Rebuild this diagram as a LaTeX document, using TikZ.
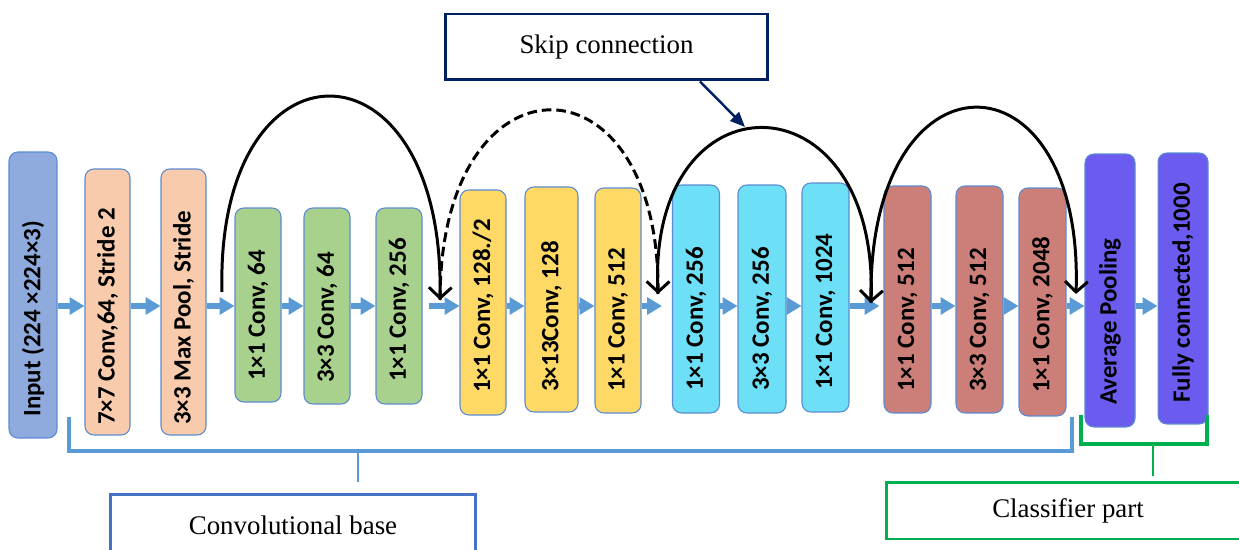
\documentclass[tikz,border=0pt]{standalone}
\usepackage{fontspec}
\setmainfont{Liberation Serif}
\newfontfamily\blockfont{Carlito}
\usetikzlibrary{arrows.meta, positioning}

\definecolor{edgeblue}{HTML}{5B8BD0}
\definecolor{flowblue}{HTML}{5B9BD5}
\definecolor{inblue}{HTML}{8FAADC}
\definecolor{peach}{HTML}{F8CBAD}
\definecolor{leaf}{HTML}{A9D18E}
\definecolor{gold}{HTML}{FFD966}
\definecolor{sky}{HTML}{6DDFF6}
\definecolor{rose}{HTML}{CC7F79}
\definecolor{violet}{HTML}{6B5BEF}
\definecolor{navy}{HTML}{002060}
\definecolor{baseblue}{HTML}{4472C4}
\definecolor{clsgreen}{HTML}{00B050}

\tikzset{%
>={Straight Barb[length=6pt,width=13pt]},
  % boxes of the network and their rotated titles
            layer/.style = {draw=edgeblue, line width=0.6pt, rounded corners=5pt,
                            inner sep=0pt, minimum width=0.92cm},
            lbl/.style = {rotate=90, anchor=west, inner sep=0pt,
                            font=\blockfont\bfseries\fontsize{14.2}{16}\selectfont},
            flow/.style = {draw=flowblue, line width=3.1pt,
                            -{Triangle[length=8.5pt,width=9.6pt]}},
            skiparc/.style = {draw=black, line width=1.7pt, ->},
            caption/.style = {draw, line width=1.7pt, inner sep=0pt,
                            font=\fontsize{15.3}{17}\selectfont}
}

\begin{document}
\begin{tikzpicture}[x=0.02cm, y=-0.02cm]
                \useasboundingbox (0,0) rectangle (1239,550);

                % stem
                \node[layer, fill=inblue, minimum width=0.96cm, minimum height=5.72cm] (inp) at (33,295) {};
                \node[lbl] (inp-t) at (inp |- 0,417) {Input (224 ×224×3)};
                \node[layer, fill=peach, minimum width=0.9cm, minimum height=5.32cm] (c7) at (107.5,302) {};
                \node[lbl] (c7-t) at (c7 |- 0,425) {7×7 Conv,64, Stride 2};
                \node[layer, fill=peach, minimum width=0.9cm, minimum height=5.32cm] (mp) at (183.5,302) {};
                \node[lbl] (mp-t) at (mp |- 0,425) {3×3 Max Pool, Stride};

                % first bottleneck
                \node[layer, fill=leaf, minimum height=3.88cm] (g1) at (258,305) {};
                \node[lbl] (g1-t) at (g1 |- 0,381) {1×1 Conv, 64};
                \node[layer, fill=leaf, minimum height=3.92cm] (g2) at (327,306) {};
                \node[lbl] (g2-t) at (g2 |- 0,383) {3×3 Conv, 64};
                \node[layer, fill=leaf, minimum height=3.92cm] (g3) at (399,306) {};
                \node[lbl] (g3-t) at (g3 |- 0,382) {1×1 Conv, 256};

                % second bottleneck
                \node[layer, fill=gold, minimum height=4.5cm] (y1) at (483,302.5) {};
                \node[lbl] (y1-t) at (y1 |- 0,393) {1×1 Conv, 128./2};
                \node[layer, fill=gold, minimum width=1.06cm, minimum height=4.5cm] (y2) at (551.5,299.5) {};
                \node[lbl] (y2-t) at (y2 |- 0,392) {3×13Conv, 128};
                \node[layer, fill=gold, minimum height=4.5cm] (y3) at (618,300.5) {};
                \node[lbl] (y3-t) at (y3 |- 0,392) {1×1 Conv, 512};

                % third bottleneck
                \node[layer, fill=sky, minimum width=0.94cm, minimum height=4.56cm] (s1) at (696,299) {};
                \node[lbl] (s1-t) at (s1 |- 0,391) {1×1 Conv, 256};
                \node[layer, fill=sky, minimum width=0.96cm, minimum height=4.56cm] (s2) at (762,299) {};
                \node[lbl] (s2-t) at (s2 |- 0,391) {3×3 Conv, 256};
                \node[layer, fill=sky, minimum width=0.94cm, minimum height=4.58cm] (s3) at (825.5,297.5) {};
                \node[lbl] (s3-t) at (s3 |- 0,390) {1×1 Conv, 1024};

                % fourth bottleneck
                \node[layer, fill=rose, minimum width=0.94cm, minimum height=4.54cm] (r1) at (907.5,299.5) {};
                \node[lbl] (r1-t) at (r1 |- 0,392) {1×1 Conv, 512};
                \node[layer, fill=rose, minimum width=0.94cm, minimum height=4.54cm] (r2) at (979.5,299.5) {};
                \node[lbl] (r2-t) at (r2 |- 0,392) {3×3 Conv, 512};
                \node[layer, fill=rose, minimum width=0.94cm, minimum height=4.56cm] (r3) at (1042.5,302) {};
                \node[lbl] (r3-t) at (r3 |- 0,393) {1×1 Conv, 2048};

                % head
                \node[layer, fill=violet, minimum width=1cm, minimum height=5.46cm] (avg) at (1110,290.5) {};
                \node[lbl] (avg-t) at (avg |- 0,405) {Average Pooling};
                \node[layer, fill=violet, minimum width=1cm, minimum height=5.42cm] (fc) at (1183,288.5) {};
                \node[lbl] (fc-t) at (fc |- 0,403) {Fully connected,1000};

                % forward flow
                \coordinate (row) at (0,306);
                \draw[flow] (inp.east |- row) -- (c7.west |- row);
                \draw[flow] (c7.east |- row) -- (mp.west |- row);
                \draw[flow] (mp.east |- row) -- (g1.west |- row);
                \draw[flow] (g1.east |- row) -- (g2.west |- row);
                \draw[flow] (g2.east |- row) -- (g3.west |- row);
                \draw[flow, shorten <=0.12cm] (g3.east |- row) -- (y1.west |- row);
                \draw[flow] (y1.east |- row) -- (y2.west |- row);
                \draw[flow] (y2.east |- row) -- (y3.west |- row);
                \draw[flow, shorten >=0.2cm] (y3.east |- row) -- (s1.west |- row);
                \draw[flow] (s1.east |- row) -- (s2.west |- row);
                \draw[flow] (s2.east |- row) -- (s3.west |- row);
                \draw[flow, shorten >=0.08cm] (s3.east |- row) -- (r1.west |- row);
                \draw[flow] (r1.east |- row) -- (r2.west |- row);
                \draw[flow] (r2.east |- row) -- (r3.west |- row);
                \draw[flow] (r3.east |- row) -- (avg.west |- row);
                \draw[flow] (avg.east |- row) -- (fc.west |- row);

                % shortcuts
                \coordinate (k1) at (222,292);
                \coordinate (k2) at (440,300);
                \coordinate (k3) at (658,294);
                \coordinate (k4) at (871,303);
                \coordinate (k5) at (1076,294);
                \draw[skiparc] (k1) .. controls (215,30) and (445,30) .. (k2);
                \draw[skiparc, dash pattern=on 5.5pt off 2.8pt] (k2) .. controls (440,48) and (659,48) .. (k3);
                \draw[skiparc] (k3) .. controls (645,71) and (879,71) .. (k4);
                \draw[skiparc] (k4) .. controls (866,44) and (1084,44) .. (k5);

                \node[caption, draw=navy, minimum width=6.46cm, minimum height=1.32cm] (skip) at (606.5,47) {Skip connection};
                \coordinate (arctop) at (745,127);
                \draw[navy, line width=1.4pt, -{Triangle[length=8.5pt,width=7pt]}] ([xshift=1.87cm]skip.south) -- (arctop);

                % parts of the network
                \node[caption, draw=baseblue, minimum width=7.32cm, minimum height=1.24cm] (base) at (293,525) {Convolutional base};
                \draw[flowblue, line width=2pt] (69,417) |- (1072,451) -- (1072,417);
                \draw[flowblue, line width=1.3pt, shorten >=0.22cm] (358,451) -- (base.north -| 358,0);

                \node[caption, draw=clsgreen, minimum width=7.28cm, minimum height=1.14cm] (cls) at (1068,510.5) {Classifier part};
                \draw[clsgreen, line width=2pt] (1081,415) |- (1207,444) -- (1207,415);
                \draw[clsgreen, line width=1.3pt, shorten >=0.1cm] (1153,444) -- (cls.north -| 1153,0);

            \end{tikzpicture}
\end{document}
